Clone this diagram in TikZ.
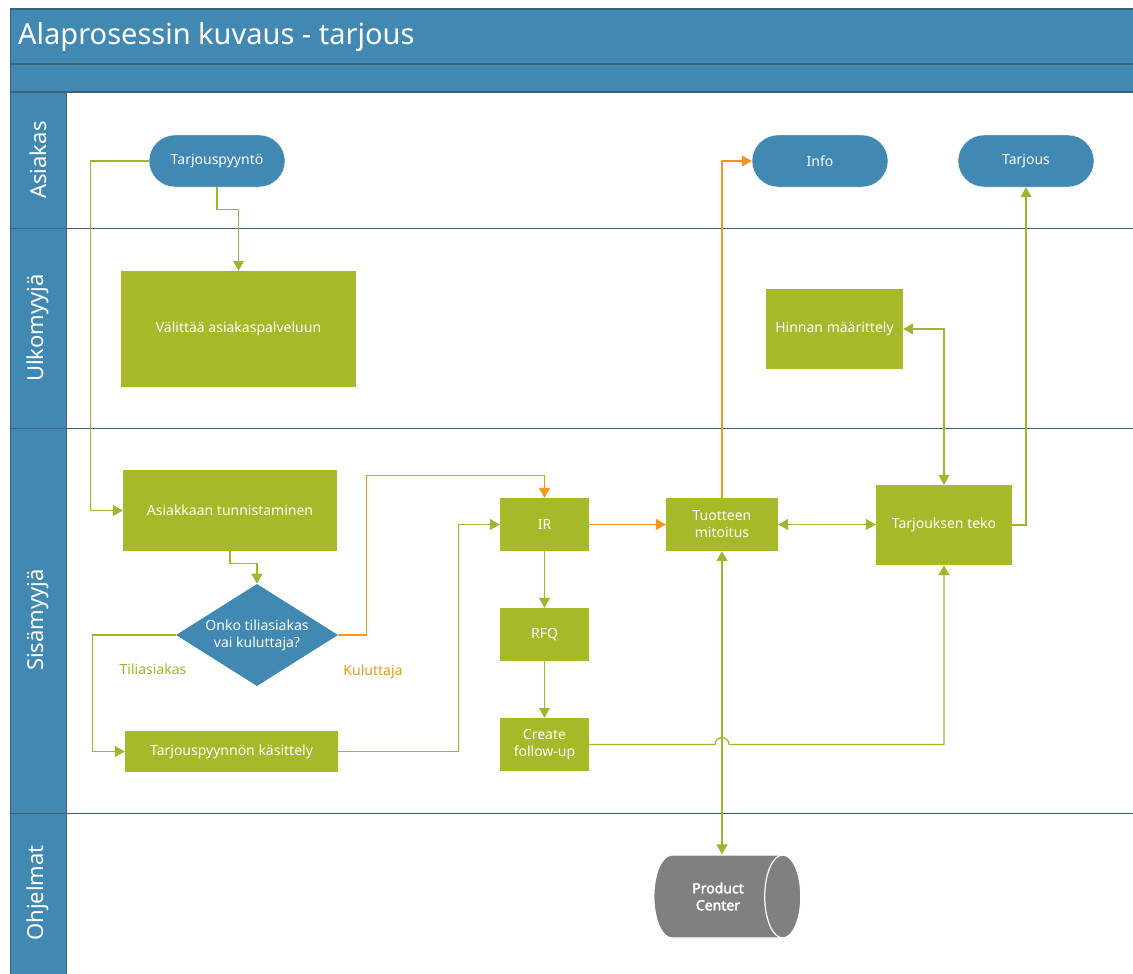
\documentclass[tikz,border=0pt]{standalone}
\usepackage{fontspec}
\setmainfont{Noto Sans}
\newfontfamily\pcfont{Noto Sans}[FakeBold=2.5]
\usetikzlibrary{arrows.meta,shapes.geometric,positioning}
\definecolor{laneblue}{RGB}{65,137,179}
\definecolor{laneline}{RGB}{60,98,124}
\definecolor{boxgreen}{RGB}{167,184,41}
\definecolor{linkgreen}{RGB}{160,182,45}
\definecolor{linkorange}{RGB}{247,148,30}
\definecolor{dbgray}{RGB}{128,128,128}
\begin{document}
\begin{tikzpicture}[x=1pt,y=-1pt,
    every node/.style={font=\fontsize{14}{17}\selectfont, text=white, inner sep=0pt},
    task/.style={rectangle, fill=boxgreen, align=center},
    ends/.style={rectangle, rounded corners=26pt, fill=laneblue, draw=white, minimum width=136pt, minimum height=52pt},
    choice/.style={diamond, fill=laneblue, align=center, inner sep=-8pt, minimum width=162pt, minimum height=96pt},
    lanename/.style={rotate=90, font=\fontsize{22}{26}\selectfont},
    link/.style={draw=linkgreen, line width=1.2pt, -{Triangle[width=11pt,length=10pt]}},
    hot/.style={link, draw=linkorange},
    both/.style={{Triangle[width=11pt,length=10pt]}-{Triangle[width=11pt,length=10pt]}}]
    \useasboundingbox (0,0) rectangle (1133,974);
    \fill [white] (0,0) rectangle (1133,974);
    \fill [laneblue] (10,9) rectangle (1133,92);
    \fill [laneblue] (10,92) rectangle (66,974);
    \foreach \y in {9,64,92} \draw [laneline, line width=1.5pt] (10,\y) -- (1133,\y);
    \foreach \y in {228,428,813} \draw [laneline, line width=1pt] (10,\y) -- (1133,\y);
    \draw [laneline, line width=1pt] (10,9) -- (10,974);
    \draw [laneline, line width=1pt] (66,92) -- (66,974);
    \node [anchor=west, font=\fontsize{29}{34}\selectfont] (title) at (18,37) {Alaprosessin kuvaus - tarjous};
    \node [lanename] (asiakas) at (38,160) {Asiakas};
    \node [lanename] (ulkomyyja) at (38,328) {Ulkomyyjä};
    \node [lanename] (sisamyyja) at (38,620) {Sisämyyjä};
    \node [lanename] (ohjelmat) at (38,893) {Ohjelmat};
    \node [ends] (pyynto) at (217,161) {Tarjouspyyntö};
    \node [ends] (info) at (820,161) {Info};
    \node [ends] (tarjous) at (1026,161) {Tarjous};
    \node [task, minimum width=235pt, minimum height=116pt] (valittaa) at (238.5,329) {Välittää asiakaspalveluun};
    \node [task, minimum width=137pt, minimum height=80pt] (hinta) at (834.5,329) {Hinnan määrittely};
    \node [task, minimum width=214pt, minimum height=81pt] (tunnistus) at (230,510.5) {Asiakkaan tunnistaminen};
    \node [choice] (onko) at (257,635) {Onko tiliasiakas\\vai kuluttaja?};
    \node [task, minimum width=213pt, minimum height=41pt] (kasittely) at (231.5,751.5) {Tarjouspyynnön käsittely};
    \node [task, minimum width=89pt, minimum height=53pt] (ir) at (544.5,524.5) {IR};
    \node [task, minimum width=89pt, minimum height=53pt] (rfq) at (544.5,634.5) {RFQ};
    \node [task, minimum width=89pt, minimum height=53pt] (followup) at (544.5,744.5) {Create\\follow-up};
    \node [task, minimum width=112pt, minimum height=53pt] (mitoitus) at (722,524.5) {Tuotteen\\mitoitus};
    \node [task, minimum width=136pt, minimum height=80pt] (teko) at (944,525) {Tarjouksen teko};
    \node [cylinder, shape aspect=1.3, fill=dbgray, draw=white, line width=1.2pt, minimum width=83pt, minimum height=147pt, align=center, font=\fontsize{14}{17}\pcfont] (pcenter) at (718,896.5) {Product\\Center};
    \node [text=linkgreen] (tili) at (153,669) {Tiliasiakas};
    \node [text=linkorange] (kulu) at (373,672) {Kuluttaja};
    \draw [link] (pyynto.west) -- ++(-58,0) |- (tunnistus.west);
    \draw [link] (pyynto.south) -- ++(0,22) -| (valittaa.north);
    \draw [link] (tunnistus.south) -- ++(0,12) -| (onko.north);
    \draw [link] (onko.west) -- ++(-83,0) |- (kasittely.west);
    \draw [hot] (onko.east) -- ++(28,0) |- ([yshift=22pt]ir.north) -- (ir.north);
    \draw [link] (kasittely.east) -- ++(120,0) |- (ir.west);
    \draw [hot] (ir.east) -- (mitoitus.west);
    \draw [link] (ir) -- (rfq);
    \draw [link] (rfq) -- (followup);
    \draw [hot] (mitoitus.north) |- (info.west);
    \draw [link, both] (mitoitus.east) -- (mitoitus.east -| teko.west);
    \draw [link, both] (hinta.east) -| (teko.north);
    \draw [link] (teko.east) -| (tarjous.south);
    \draw [link] (followup.east) -- ([xshift=-7pt]mitoitus.south |- followup.east) arc [start angle=180, end angle=360, radius=7] -| (teko.south);
    \draw [link, both, line width=2pt] (mitoitus.south) -- (mitoitus.south |- pcenter.north);
\end{tikzpicture}
\end{document}
